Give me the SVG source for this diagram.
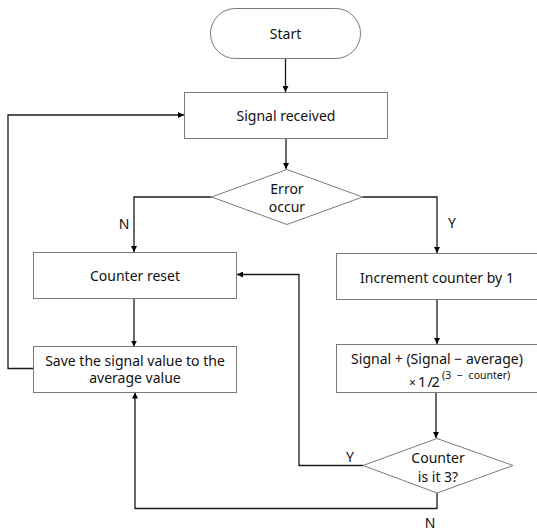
<svg xmlns="http://www.w3.org/2000/svg" width="537" height="532" viewBox="0 0 537 532">
  <defs>
    <marker id="arrow" viewBox="0 0 6 6" refX="6" refY="3" markerWidth="6" markerHeight="6" markerUnits="userSpaceOnUse" orient="auto">
      <path d="M0,0 L6,3 L0,6 z" fill="#000"/>
    </marker>
    <style>
      .shape { fill: #fff; stroke: #7a7a7a; stroke-width: 1; }
      .conn { fill: none; stroke: #1a1a1a; stroke-width: 1.3; }
      .lbl { font-family: "Noto Sans", "Open Sans", "DejaVu Sans", sans-serif; font-size: 14px; fill: #111; text-anchor: middle; }
      .yn { font-family: "Noto Sans", "Open Sans", "DejaVu Sans", sans-serif; font-size: 14px; fill: #111; text-anchor: middle; }
      .math { font-family: "Noto Sans", "Open Sans", "DejaVu Sans", sans-serif; font-size: 14.5px; fill: #111; text-anchor: start; }
      .sup { font-family: "Noto Sans", "Open Sans", "DejaVu Sans", sans-serif; font-size: 10.5px; word-spacing: 3px; fill: #111; text-anchor: start; }
    </style>
  </defs>
  <rect width="537" height="532" fill="#fff"/>

  <!-- connectors -->
  <g id="connectors">
    <path class="conn" d="M285.5,58 V92" marker-end="url(#arrow)"/>
    <path class="conn" d="M286,138 V169" marker-end="url(#arrow)"/>
    <path class="conn" d="M211.5,197 H134 V252" marker-end="url(#arrow)"/>
    <path class="conn" d="M362.5,197 H437 V253" marker-end="url(#arrow)"/>
    <path class="conn" d="M134,298 V346.5" marker-end="url(#arrow)"/>
    <path class="conn" d="M437,299 V344" marker-end="url(#arrow)"/>
    <path class="conn" d="M436,392 V438" marker-end="url(#arrow)"/>
    <path class="conn" d="M33,368.5 H8 V115 H184" marker-end="url(#arrow)"/>
    <path class="conn" d="M363,465.5 H299 V274.5 H237" marker-end="url(#arrow)"/>
    <path class="conn" d="M437,493 V508.5 H135 V392.5" marker-end="url(#arrow)"/>
    <text class="yn" x="124" y="229">N</text>
    <text class="yn" x="452" y="228">Y</text>
    <text class="yn" x="350" y="462">Y</text>
    <text class="yn" x="430" y="528">N</text>
  </g>

  <g id="start">
    <rect class="shape" x="210.5" y="8.5" width="150" height="50" rx="25" ry="25"/>
    <text class="lbl" x="285.5" y="38.5">Start</text>
  </g>

  <g id="signal-received">
    <rect class="shape" x="184.5" y="92.5" width="203" height="46"/>
    <text class="lbl" x="286" y="120.5">Signal received</text>
  </g>

  <g id="error-occur">
    <polygon class="shape" points="287,169.5 362.5,197 287,224.5 211.5,197"/>
    <text class="lbl" x="287" y="193.5">Error</text>
    <text class="lbl" x="287" y="211.5">occur</text>
  </g>

  <g id="counter-reset">
    <rect class="shape" x="33.5" y="252.5" width="203" height="46"/>
    <text class="lbl" x="135" y="280.5">Counter reset</text>
  </g>

  <g id="increment-counter">
    <rect class="shape" x="336.5" y="253.5" width="203" height="46"/>
    <text class="lbl" x="437" y="282.5">Increment counter by 1</text>
  </g>

  <g id="save-average">
    <rect class="shape" x="33.5" y="346.5" width="203" height="46"/>
    <text class="lbl" x="135" y="365.5">Save the signal value to the</text>
    <text class="lbl" x="135" y="383">average value</text>
  </g>

  <g id="weighted-update">
    <rect class="shape" x="336.5" y="344.5" width="203" height="48"/>
    <text class="lbl" x="437" y="364">Signal + (Signal − average)</text>
    <text class="math" y="386.5"><tspan x="409" style="font-size:12px">×</tspan><tspan x="418">1</tspan><tspan x="427.5">/</tspan><tspan x="431.5">2</tspan></text>
    <text class="sup" x="442" y="379">(3 − counter)</text>
  </g>

  <g id="counter-check">
    <polygon class="shape" points="437,438.5 513,465.5 437,493 363,465.5"/>
    <text class="lbl" x="438" y="463">Counter</text>
    <text class="lbl" x="438" y="481.5">is it 3?</text>
  </g>
</svg>
